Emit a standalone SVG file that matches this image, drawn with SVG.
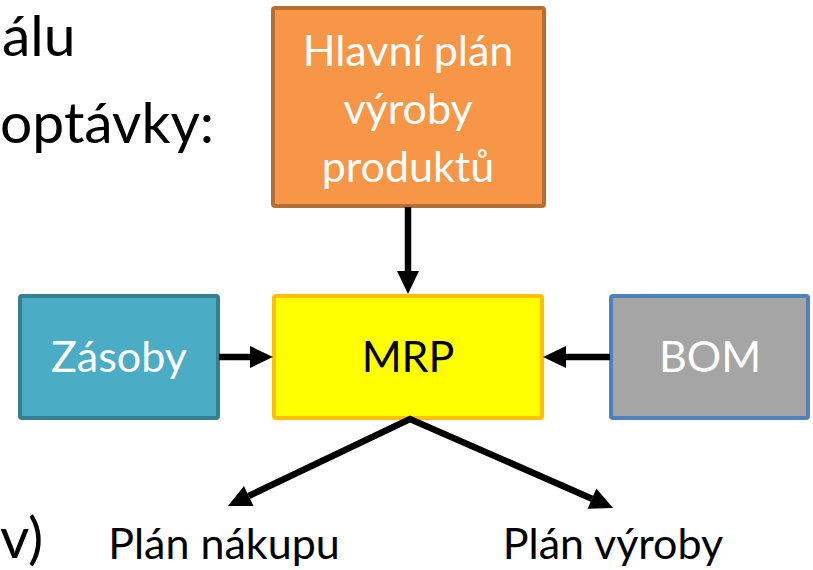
<svg xmlns="http://www.w3.org/2000/svg" width="813" height="570" viewBox="0 0 813 570">
<style>
text{font-family:Lato,"Liberation Sans",sans-serif}
.box{stroke-width:4}
.wt{fill:#ffffff;font-size:43px;text-anchor:middle}
.bt{fill:#000000;font-size:43px;text-anchor:middle}
.body{fill:#000000;font-size:57px;text-anchor:start}
.conn{stroke:#000;stroke-width:6.5;fill:none;stroke-linejoin:miter}
</style>
<defs>
<marker id="ah" markerUnits="userSpaceOnUse" markerWidth="24" markerHeight="24" viewBox="0 -12 24 24" refX="0" refY="0" orient="auto-start-reverse" overflow="visible">
<path d="M0,-11 L23,0 L0,11 z" fill="#000"/>
</marker>
</defs>
<text class="body" x="2" y="56">álu</text>
<text class="body" x="0" y="143">optávky:</text>
<text class="body" x="0" y="558">v)</text>
<g id="node-hlavni">
<rect class="box" x="273" y="8" width="271" height="198" rx="2" fill="#F79646" stroke="#B66D31"/>
<text class="wt" x="408" y="66">Hlavní plán</text>
<text class="wt" x="408" y="124">výroby</text>
<text class="wt" x="408" y="182">produktů</text>
</g>
<g id="node-zasoby">
<rect class="box" x="20" y="296" width="198" height="122" rx="2" fill="#4BACC6" stroke="#357F8F"/>
<text class="wt" x="119" y="372">Zásoby</text>
</g>
<g id="node-mrp">
<rect class="box" x="274" y="296" width="268" height="122" rx="2" fill="#FFFF00" stroke="#FFC000"/>
<text class="bt" x="408" y="372">MRP</text>
</g>
<g id="node-bom">
<rect class="box" x="611" y="296" width="197" height="122" rx="2" fill="#A5A5A5" stroke="#4F81BD"/>
<text class="wt" x="710" y="372">BOM</text>
</g>
<g id="node-nakup">
<text class="bt" x="224" y="559">Plán nákupu</text>
</g>
<g id="node-vyroba">
<text class="bt" x="613" y="559">Plán výroby</text>
</g>
<g id="connectors">
<line class="conn" x1="408" y1="207" x2="408" y2="271" marker-end="url(#ah)"/>
<line class="conn" x1="219" y1="357" x2="250" y2="357" marker-end="url(#ah)"/>
<line class="conn" x1="610" y1="357" x2="566" y2="357" marker-end="url(#ah)"/>
<path class="conn" d="M248.7,496 L410,419 L592,498.7" marker-start="url(#ah)" marker-end="url(#ah)"/>
</g>
</svg>
